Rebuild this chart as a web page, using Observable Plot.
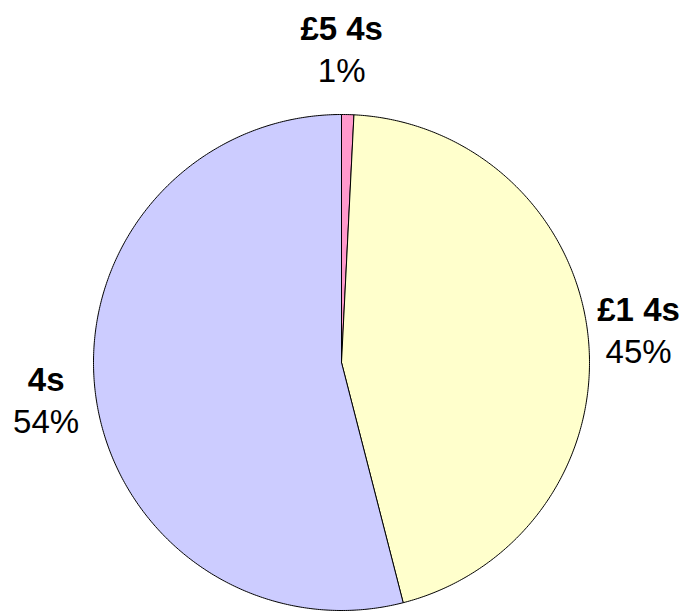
<!DOCTYPE html>
<html>
<head>
<meta charset="utf-8">
<script src="https://cdn.jsdelivr.net/npm/d3@7"></script>
<script src="https://cdn.jsdelivr.net/npm/@observablehq/plot@0.6"></script>
<style>
  html, body { margin: 0; padding: 0; background: #fff; }
</style>
</head>
<body>
<div id="chart"></div>
<script>
// Data
const names = ["£5 4s", "£1 4s", "4s"];
const shares = [0.8, 45.2, 54.0];
const colors = ["#FF99CC", "#FFFFCC", "#CCCCFF"];

const total = d3.sum(shares);
let acc = 0;
const slices = names.map((name, i) => {
  const a0 = acc / total * 2 * Math.PI;
  acc += shares[i];
  const a1 = acc / total * 2 * Math.PI;
  return {name, share: shares[i], color: colors[i], a0, a1};
});

// Slice outlines (unit circle, clockwise from 12 o'clock)
const outline = [];
for (const s of slices) {
  outline.push({name: s.name, color: s.color, x: 0, y: 0});
  const n = Math.max(2, Math.ceil((s.a1 - s.a0) / (Math.PI / 360)));
  for (let k = 0; k <= n; k++) {
    const a = s.a0 + (s.a1 - s.a0) * k / n;
    outline.push({name: s.name, color: s.color, x: Math.sin(a), y: Math.cos(a)});
  }
  outline.push({name: s.name, color: s.color, x: 0, y: 0});
}

// Label anchors outside the pie
const labels = slices.map(s => {
  const m = (s.a0 + s.a1) / 2;
  const sx = Math.sin(m), cy = Math.cos(m);
  return {name: s.name, pct: Math.round(s.share) + "%", x: 1.21 * sx * Math.abs(sx), y: 1.26 * cy};
});

const chart = Plot.plot({
  width: 687,
  height: 612,
  marginLeft: 93,
  marginRight: 98,
  marginTop: 114,
  marginBottom: 2,
  x: {domain: [-1, 1], axis: null},
  y: {domain: [-1, 1], axis: null},
  color: {type: "identity"},
  style: {fontFamily: "'Liberation Sans', Arial, sans-serif", background: "white", overflow: "visible"},
  marks: [
    Plot.line(outline, {x: "x", y: "y", z: "name", fill: "color", stroke: "black", strokeWidth: 1, strokeLinejoin: "round"}),
    Plot.text(labels, {x: "x", y: "y", text: "name", fontWeight: "bold", fontSize: 33, dy: -21, fill: "black"}),
    Plot.text(labels, {x: "x", y: "y", text: "pct", fontSize: 33, dy: 21, fill: "black"})
  ]
});
document.getElementById("chart").appendChild(chart);
</script>
</body>
</html>
